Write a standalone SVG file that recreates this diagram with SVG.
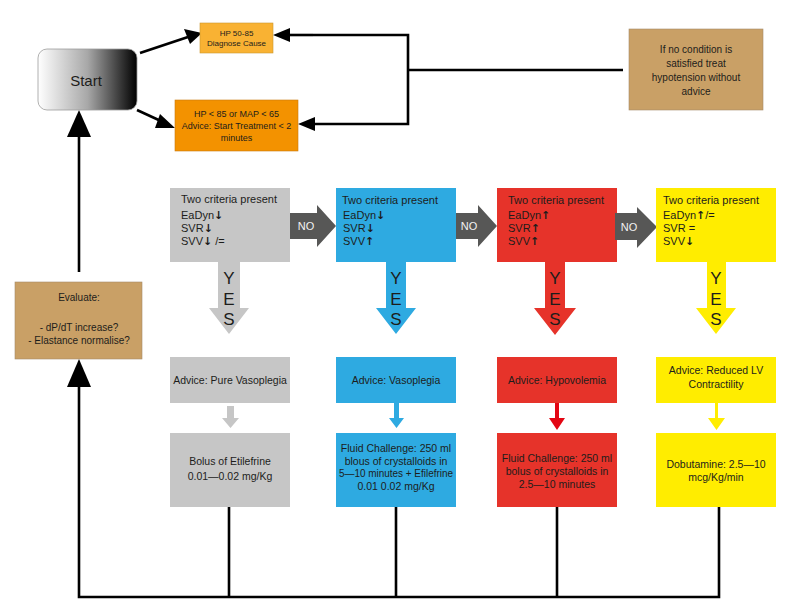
<svg xmlns="http://www.w3.org/2000/svg" width="793" height="607" viewBox="0 0 793 607">
<defs>
<linearGradient id="startGrad" x1="0" y1="0" x2="1" y2="0">
<stop offset="0" stop-color="#ffffff"/>
<stop offset="0.5" stop-color="#a8a8a8"/>
<stop offset="1" stop-color="#000000"/>
</linearGradient>
<style>
text{font-family:"Liberation Sans",Arial,sans-serif;fill:#1d1d1b}
.c{text-anchor:middle}
.f7{font-size:8px}
.f8{font-size:9px}
.f9{font-size:10px}
.f10{font-size:10.5px}
.crit{font-size:11px}
.ar{font-family:"DejaVu Sans",sans-serif;font-weight:bold}
.yes{font-size:17px;text-anchor:middle}
.no{font-size:11px;text-anchor:middle;fill:#f2f2f2}
.ln{fill:none;stroke:#000;stroke-width:2.6}
.ah{fill:#000}
.gray{fill:#c6c6c6}
.blue{fill:#2eaae1}
.red{fill:#e6332a}
.yellow{fill:#ffed00}
.tan{fill:#c9a066;stroke:#a58a6a;stroke-width:0.6}
.noarrow{fill:#575756}
</style>
</defs>
<rect width="793" height="607" fill="#fff"/>

<g id="connectors">
<line class="ln" x1="140" y1="53" x2="188" y2="37"/>
<polygon class="ah" points="202,33 184,29 190,44"/>
<line class="ln" x1="137" y1="110" x2="163" y2="122"/>
<polygon class="ah" points="175,128 160,114 155,128"/>
<polyline class="ln" points="313,35 408,35 408,124 313,124"/>
<polygon class="ah" points="273,35 290,28 290,42"/>
<line class="ln" x1="288" y1="35" x2="313" y2="35"/>
<polygon class="ah" points="298,124 315,117 315,131"/>
<line class="ln" x1="408" y1="70" x2="623" y2="70"/>
<line class="ln" x1="79" y1="272" x2="79" y2="135"/>
<polygon class="ah" points="79,110 67,137 91,137"/>
<polyline class="ln" points="79,385 79,597 719,597 719,507"/>
<polygon class="ah" points="79,359 67,387 91,387"/>
<line class="ln" x1="229" y1="507" x2="229" y2="597"/>
<line class="ln" x1="396" y1="507" x2="396" y2="597"/>
<line class="ln" x1="557" y1="507" x2="557" y2="597"/>
</g>

<g id="start">
<rect x="38" y="49" width="99" height="61" rx="9" fill="url(#startGrad)" stroke="#9d9d9c" stroke-width="0.8"/>
<text class="c" x="86" y="86" style="font-size:15px">Start</text>
</g>

<g id="hp50">
<rect x="200" y="23" width="73" height="30" fill="#f9b233" stroke="#c9962f" stroke-width="0.6"/>
<text class="c f7" x="236.5" y="36">HP 50-85</text>
<text class="c f7" x="236.5" y="46">Diagnose Cause</text>
</g>

<g id="hp85">
<rect x="175" y="100" width="123" height="51" fill="#f39200" stroke="#c97a10" stroke-width="0.6"/>
<text class="c f8" x="236.5" y="117">HP &lt; 85 or MAP &lt; 65</text>
<text class="c f8" x="236.5" y="129">Advice: Start Treatment &lt; 2</text>
<text class="c f8" x="236.5" y="141">minutes</text>
</g>

<g id="nocondition">
<rect class="tan" x="629" y="29" width="134" height="81"/>
<text class="c f9" x="696" y="53">If no condition is</text>
<text class="c f9" x="696" y="67">satisfied treat</text>
<text class="c f9" x="696" y="81">hypotension without</text>
<text class="c f9" x="696" y="95">advice</text>
</g>

<g id="evaluate">
<rect class="tan" x="15" y="282" width="127" height="77"/>
<text class="c f9" x="79" y="301">Evaluate:</text>
<text class="c f9" x="79" y="331">- dP/dT increase?</text>
<text class="c f9" x="79" y="344">- Elastance normalise?</text>
</g>

<g id="crit-gray">
<rect class="gray" x="170" y="188" width="120" height="74"/>
<text class="crit" x="181" y="203">Two criteria present</text>
<text class="crit" x="181" y="219">EaDyn<tspan class="ar">↓</tspan></text>
<text class="crit" x="181" y="232">SVR<tspan class="ar">↓</tspan></text>
<text class="crit" x="181" y="245">SVV<tspan class="ar">↓</tspan> /=</text>
<polygon class="gray" points="218,262 240,262 240,308 249,308 229,334 209,308 218,308"/>
<text class="yes" x="229" y="284">Y</text>
<text class="yes" x="229" y="305">E</text>
<text class="yes" x="229" y="325">S</text>
</g>

<g id="no1">
<polygon class="noarrow" points="290,213 317,213 317,205 336,226 317,247 317,239 290,239"/>
<text class="no" x="306" y="230">NO</text>
</g>

<g id="crit-blue">
<rect class="blue" x="336" y="188" width="120" height="74"/>
<text class="crit" x="342" y="204">Two criteria present</text>
<text class="crit" x="343" y="219">EaDyn<tspan class="ar">↓</tspan></text>
<text class="crit" x="343" y="232">SVR<tspan class="ar">↓</tspan></text>
<text class="crit" x="343" y="245">SVV<tspan class="ar">↑</tspan></text>
<polygon class="blue" points="386,262 406,262 406,308 416,308 396,334 376,308 386,308"/>
<text class="yes" x="396" y="284">Y</text>
<text class="yes" x="396" y="305">E</text>
<text class="yes" x="396" y="325">S</text>
</g>

<g id="no2">
<polygon class="noarrow" points="456,213 478,213 478,205 497,226 478,247 478,239 456,239"/>
<text class="no" x="469" y="230">NO</text>
</g>

<g id="crit-red">
<rect class="red" x="497" y="188" width="120" height="74"/>
<text class="crit" x="508" y="204">Two criteria present</text>
<text class="crit" x="508" y="219">EaDyn<tspan class="ar">↑</tspan></text>
<text class="crit" x="508" y="232">SVR<tspan class="ar">↑</tspan></text>
<text class="crit" x="508" y="245">SVV<tspan class="ar">↑</tspan></text>
<polygon class="red" points="545,262 565,262 565,308 576,308 555,335 534,308 545,308"/>
<text class="yes" x="555" y="284">Y</text>
<text class="yes" x="555" y="305">E</text>
<text class="yes" x="555" y="325">S</text>
</g>

<g id="no3">
<polygon class="noarrow" points="615,213 637,213 637,207 657,227 637,248 637,240 615,240"/>
<text class="no" x="629" y="231">NO</text>
</g>

<g id="crit-yellow">
<rect class="yellow" x="656" y="188" width="120" height="74"/>
<text class="crit" x="663" y="204">Two criteria present</text>
<text class="crit" x="663" y="219">EaDyn<tspan class="ar">↑</tspan>/=</text>
<text class="crit" x="663" y="232">SVR =</text>
<text class="crit" x="663" y="245">SVV<tspan class="ar">↓</tspan></text>
<polygon class="yellow" points="707,262 726,262 726,308 736,308 716,334 696,308 707,308"/>
<text class="yes" x="716" y="284">Y</text>
<text class="yes" x="716" y="305">E</text>
<text class="yes" x="716" y="325">S</text>
</g>

<g id="advice-gray">
<rect class="gray" x="170" y="357" width="120" height="46"/>
<text class="c f10" x="230" y="384">Advice: Pure Vasoplegia</text>
<polygon class="gray" points="227,406 234,406 234,418 239,418 230.5,428 222,418 227,418"/>
</g>

<g id="advice-blue">
<rect class="blue" x="336" y="357" width="120" height="46"/>
<text class="c f10" x="396" y="384">Advice: Vasoplegia</text>
<polygon class="blue" points="394,403 399,403 399,418 404,418 396.5,428 389,418 394,418"/>
</g>

<g id="advice-red">
<rect class="red" x="497" y="357" width="120" height="46"/>
<text class="c f10" x="557" y="384">Advice: Hypovolemia</text>
<polygon fill="#e30613" points="555,403 559,403 559,418 565,418 557,430 549,418 555,418"/>
</g>

<g id="advice-yellow">
<rect class="yellow" x="656" y="357" width="120" height="46"/>
<text class="c f10" x="716" y="374">Advice: Reduced LV</text>
<text class="c f10" x="716" y="388">Contractility</text>
<polygon class="yellow" points="715,403 718,403 718,418 725,418 716.5,430 708,418 715,418"/>
</g>

<g id="treat-gray">
<rect class="gray" x="170" y="433" width="120" height="74"/>
<text class="c f10" x="230" y="465">Bolus of Etilefrine</text>
<text class="c f10" x="230" y="480">0.01—0.02 mg/Kg</text>
</g>

<g id="treat-blue">
<rect class="blue" x="336" y="433" width="120" height="74"/>
<text class="c f10" x="396" y="452">Fluid Challenge: 250 ml</text>
<text class="c f10" x="396" y="465">blous of crystalloids in</text>
<text class="c f10" x="396" y="477" textLength="114" lengthAdjust="spacingAndGlyphs">5—10 minutes + Efilefrine</text>
<text class="c f10" x="396" y="490">0.01 0.02 mg/Kg</text>
</g>

<g id="treat-red">
<rect class="red" x="497" y="433" width="120" height="74"/>
<text class="c f10" x="557" y="462">Fluid Challenge: 250 ml</text>
<text class="c f10" x="557" y="475">bolus of crystalloids in</text>
<text class="c f10" x="557" y="488">2.5—10 minutes</text>
</g>

<g id="treat-yellow">
<rect class="yellow" x="656" y="433" width="120" height="74"/>
<text class="c f10" x="716" y="468">Dobutamine: 2.5—10</text>
<text class="c f10" x="716" y="481">mcg/Kg/min</text>
</g>
</svg>
